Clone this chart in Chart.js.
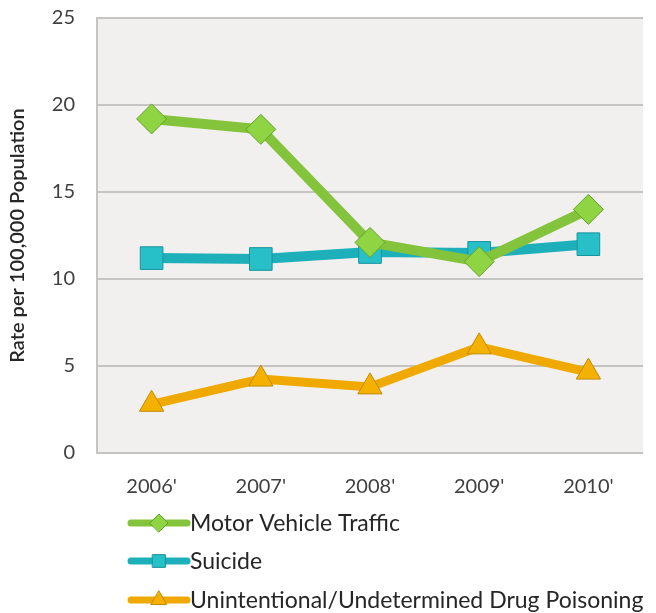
<!DOCTYPE html>
<html>
<head>
<meta charset="utf-8">
<script src="https://cdn.jsdelivr.net/npm/chart.js@4"></script>
<style>
  html, body { margin: 0; padding: 0; background: #ffffff; }
  #wrap { width: 656px; height: 613px; }
</style>
</head>
<body>
<div id="wrap"><canvas id="injuryChart" width="656" height="613"></canvas></div>
<script>
// data
const years = ["2006'", "2007'", "2008'", "2009'", "2010'"];
const motorVehicle = [19.2, 18.6, 12.1, 11.0, 14.0];
const suicide = [11.2, 11.15, 11.55, 11.5, 12.0];
const drugPoisoning = [2.8, 4.25, 3.8, 6.1, 4.65];
const yTicks = [0, 5, 10, 15, 20, 25];

const FONT = 'Lato, "Open Sans", sans-serif';

// grey plot background
const plotBg = {
    id: 'plotBg',
    beforeDraw(chart) {
        const a = chart.chartArea;
        const ctx = chart.ctx;
        ctx.save();
        ctx.fillStyle = '#f2f0ee';
        ctx.fillRect(a.left, a.top, a.right - a.left, a.bottom - a.top);
        ctx.restore();
    }
};

// stacked legend under the chart, line sample with marker in the middle
const stackedLegend = {
    id: 'stackedLegend',
    afterDraw(chart) {
        const ctx = chart.ctx;
        const x0 = 128, lineW = 62, rowY = [523, 561, 600];
        chart.data.datasets.forEach((ds, i) => {
            const y = rowY[i];
            ctx.save();
            ctx.strokeStyle = ds.borderColor;
            ctx.lineWidth = 7;
            ctx.lineCap = 'round';
            ctx.beginPath();
            ctx.moveTo(x0 + 3, y);
            ctx.lineTo(x0 + lineW - 3, y);
            ctx.stroke();
            ctx.fillStyle = ds.pointBackgroundColor;
            ctx.strokeStyle = ds.pointBorderColor;
            ctx.lineWidth = 1;
            Chart.helpers.drawPoint(ctx, {pointStyle: ds.pointStyle, radius: 9, borderWidth: 1}, x0 + lineW / 2, y);
            ctx.fillStyle = '#262626';
            ctx.font = '23px ' + FONT;
            ctx.textBaseline = 'middle';
            ctx.textAlign = 'left';
            ctx.fillText(ds.label, x0 + lineW, y + 1);
            ctx.restore();
        });
    }
};

const data = {
    labels: years,
    datasets: [
        {
            label: 'Motor Vehicle Traffic',
            data: motorVehicle,
            borderColor: '#84c43c',
            pointBackgroundColor: '#8ed443',
            pointBorderColor: '#64a12a',
            pointStyle: 'rectRot',
            pointRadius: 15,
            pointHoverRadius: 15,
            pointBorderWidth: 1,
            borderWidth: 10
        },
        {
            label: 'Suicide',
            data: suicide,
            borderColor: '#1eb0ba',
            pointBackgroundColor: '#27c0c9',
            pointBorderColor: '#17939b',
            pointStyle: 'rect',
            pointRadius: 16,
            pointHoverRadius: 16,
            pointBorderWidth: 1,
            borderWidth: 10
        },
        {
            label: 'Unintentional/Undetermined Drug Poisoning',
            data: drugPoisoning,
            borderColor: '#f0a900',
            pointBackgroundColor: '#f5b100',
            pointBorderColor: '#c48a00',
            pointStyle: 'triangle',
            pointRadius: 14,
            pointHoverRadius: 14,
            pointBorderWidth: 1,
            borderWidth: 9
        }
    ]
};

const config = {
    type: 'line',
    data: data,
    options: {
        responsive: false,
        animation: false,
        layout: {
            autoPadding: false,
            padding: { top: 18, right: 13, bottom: 113, left: 0 }
        },
        plugins: {
            legend: { display: false },
            tooltip: { enabled: false }
        },
        scales: {
            x: {
                offset: true,
                grid: { display: false, drawTicks: false },
                border: { display: false },
                ticks: {
                    color: '#404040',
                    font: { family: FONT, size: 20 },
                    padding: 22
                },
                afterFit(scale) { scale.height = 47; }
            },
            y: {
                min: 0,
                max: 25,
                afterBuildTicks(scale) { scale.ticks = yTicks.map(v => ({ value: v })); },
                grid: { color: '#c6c4c2', lineWidth: 2, drawTicks: false },
                border: { display: true, color: '#c6c4c2', width: 2 },
                ticks: {
                    color: '#404040',
                    font: { family: FONT, size: 20 },
                    padding: 22
                },
                title: {
                    display: true,
                    text: 'Rate per 100,000 Population',
                    color: '#262626',
                    font: { family: FONT, size: 20, weight: '600' },
                    padding: { top: 6, bottom: 0 }
                },
                afterFit(scale) {
                    scale.width = 97;
                    // tick padding should not push the plot down
                    scale.paddingTop = 0;
                    scale.paddingBottom = 0;
                }
            }
        }
    },
    plugins: [plotBg, stackedLegend]
};

const ctx = document.getElementById('injuryChart').getContext('2d');
new Chart(ctx, config);
</script>
</body>
</html>
